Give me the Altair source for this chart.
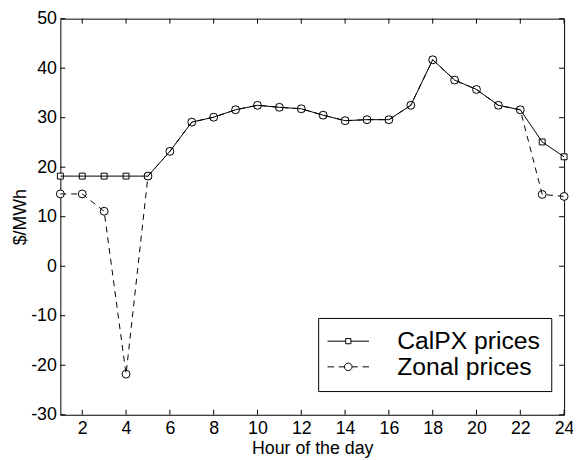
import altair as alt
import pandas as pd

# ---- data ----
hours = list(range(1, 25))
calpx = [18.2, 18.2, 18.2, 18.2, 18.2, 23.2, 29.1, 30.1, 31.6, 32.5, 32.1, 31.8,
         30.5, 29.4, 29.6, 29.6, 32.5, 41.7, 37.6, 35.7, 32.5, 31.6, 25.1, 22.1]
zonal = [14.6, 14.6, 11.1, -21.8, 18.2, 23.2, 29.1, 30.1, 31.6, 32.5, 32.1, 31.8,
         30.5, 29.4, 29.6, 29.6, 32.5, 41.7, 37.6, 35.7, 32.5, 31.6, 14.5, 14.1]
series_names = ["CalPX prices", "Zonal prices"]
x_ticks = [2, 4, 6, 8, 10, 12, 14, 16, 18, 20, 22, 24]
y_ticks = [-30, -20, -10, 0, 10, 20, 30, 40, 50]

X_MIN, X_MAX = 1, 24
Y_MIN, Y_MAX = -30, 50

# style constants
FONT = "Liberation Sans"
TICK_LEN_X = 0.23   # inward tick length in hours (~5px)
TICK_LEN_Y = 1.0    # inward tick length in $/MWh (~5px)

cal_df = pd.DataFrame({"hour": hours, "price": calpx, "series": series_names[0]})
zon_df = pd.DataFrame({"hour": hours, "price": zonal, "series": series_names[1]})
all_df = pd.concat([cal_df, zon_df], ignore_index=True)
xt_df = pd.DataFrame({"t": x_ticks})
yt_df = pd.DataFrame({"t": y_ticks})

xscale = alt.Scale(domain=[X_MIN, X_MAX], nice=False, zero=False)
yscale = alt.Scale(domain=[Y_MIN, Y_MAX], nice=False, zero=False)

xaxis = alt.Axis(values=x_ticks, title="Hour of the day", grid=False, ticks=False,
                 domain=False, labelFontSize=18, titleFontSize=18, labelFont=FONT,
                 titleFont=FONT, titleFontWeight="normal", labelColor="black",
                 titleColor="black", labelPadding=5, titlePadding=2, labelFlush=False)
yaxis = alt.Axis(values=y_ticks, title="$/MWh", grid=False, ticks=False,
                 domain=False, labelFontSize=18, titleFontSize=18, labelFont=FONT,
                 titleFont=FONT, titleFontWeight="normal", labelColor="black",
                 titleColor="black", labelPadding=4, titlePadding=1, labelFlush=False,
                 labelExpr="datum.value < 0 ? '-' + format(-datum.value, 'd') : format(datum.value, 'd')")

X = alt.X("hour:Q", scale=xscale, axis=xaxis)
Y = alt.Y("price:Q", scale=yscale, axis=yaxis)

squares = alt.Chart(cal_df).mark_point(
    shape="square", filled=True, fill="white", stroke="black", strokeWidth=1,
    size=36, opacity=1).encode(x=X, y=Y)
circles = alt.Chart(zon_df).mark_point(
    shape="circle", filled=True, fill="white", stroke="black", strokeWidth=1,
    size=64, opacity=1).encode(x=X, y=Y)
zon_line = alt.Chart(zon_df).mark_line(
    color="black", strokeWidth=1, strokeDash=[6, 5]).encode(x=X, y=Y)
cal_line = alt.Chart(cal_df).mark_line(
    color="black", strokeWidth=1).encode(x=X, y=Y)

path_cal = "M-1.75,0H-0.22M0.22,0H1.75M-0.22,-0.22H0.22V0.22H-0.22Z"
path_zon = ("M-1.75,0H-1.2M-0.8,0H-0.32M0.32,0H0.8M1.2,0H1.75"
            "M0.32,0A0.32,0.32,0,1,1,-0.32,0A0.32,0.32,0,1,1,0.32,0")

legend_layer = alt.Chart(all_df).mark_point(opacity=0).encode(
    x=X, y=Y,
    shape=alt.Shape("series:N",
                    scale=alt.Scale(domain=series_names, range=[path_cal, path_zon]),
                    legend=alt.Legend(
                        title=None, orient="none", legendX=261, legendY=303,
                        strokeColor="black", fillColor="white", padding=11,
                        cornerRadius=0, labelFont=FONT, labelFontSize=25,
                        labelColor="black", symbolSize=576, symbolOffset=7,
                        labelOffset=37, rowPadding=0, symbolOpacity=1,
                        symbolStrokeColor="black", symbolFillColor="transparent",
                        symbolStrokeWidth=1)))

tick_bottom = alt.Chart(xt_df).mark_rule(color="black", strokeWidth=1).encode(
    x=alt.X("t:Q", scale=xscale), y=alt.datum(Y_MIN), y2=alt.datum(Y_MIN + TICK_LEN_Y))
tick_top = alt.Chart(xt_df).mark_rule(color="black", strokeWidth=1).encode(
    x=alt.X("t:Q", scale=xscale), y=alt.datum(Y_MAX), y2=alt.datum(Y_MAX - TICK_LEN_Y))
tick_left = alt.Chart(yt_df).mark_rule(color="black", strokeWidth=1).encode(
    y=alt.Y("t:Q", scale=yscale), x=alt.datum(X_MIN), x2=alt.datum(X_MIN + TICK_LEN_X))
tick_right = alt.Chart(yt_df).mark_rule(color="black", strokeWidth=1).encode(
    y=alt.Y("t:Q", scale=yscale), x=alt.datum(X_MAX), x2=alt.datum(X_MAX - TICK_LEN_X))

chart = alt.layer(
    tick_bottom, tick_top, tick_left, tick_right,
    squares, circles, zon_line, cal_line, legend_layer
).properties(
    width=510, height=401,
    autosize=alt.AutoSizeParams(type="none"),
    padding={"left": 53, "top": 8, "right": 9, "bottom": 43},
    background="white",
).configure_view(stroke="black", strokeWidth=1)

chart.save("out.html", embed_options={"renderer": "svg", "actions": False})
